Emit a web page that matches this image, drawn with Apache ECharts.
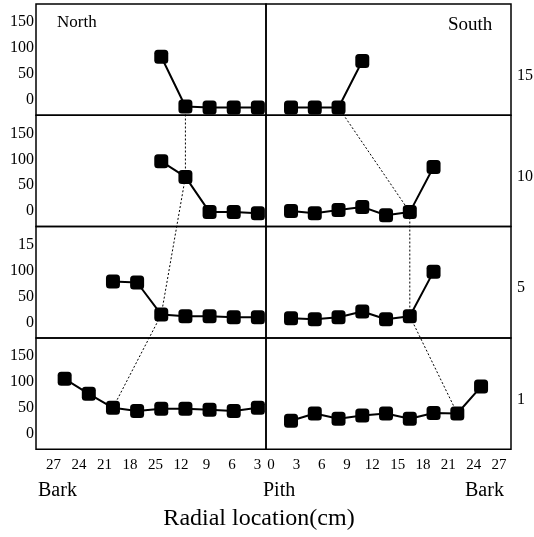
<!DOCTYPE html>
<html>
<head>
<meta charset="utf-8">
<script src="https://cdn.jsdelivr.net/npm/echarts@6/dist/echarts.min.js"></script>
<style>
  html, body { margin: 0; padding: 0; background: #fff; }
  #chart { width: 534px; height: 537px; }
</style>
</head>
<body>
<div id="chart"></div>
<script>
// rows, top to bottom
const rowNames = ['15', '10', '5', '1'];

// north side (distance from pith, cm) and values
const northDist15 = [15, 12, 9, 6, 3];
const north15 = [83, -13, -15, -15, -15];
const northDist10 = [15, 12, 9, 6, 3];
const north10 = [96, 66, -2, -2, -4];
const northDist5 = [21, 18, 15, 12, 9, 6, 3];
const north5 = [79, 77, 15, 12, 12, 10, 10];
const northDist1 = [27, 24, 21, 18, 15, 12, 9, 6, 3];
const north1 = [106, 77, 50, 44, 48, 48, 46, 44, 50];

// south side
const southDist15 = [3, 6, 9, 12];
const south15 = [-15, -15, -15, 75];
const southDist10 = [3, 6, 9, 12, 15, 18, 21];
const south10 = [0, -4, 2, 8, -8, -2, 85];
const southDist5 = [3, 6, 9, 12, 15, 18, 21];
const south5 = [8, 6, 10, 21, 6, 12, 98];
const southDist1 = [3, 6, 9, 12, 15, 18, 21, 24, 27];
const south1 = [25, 39, 29, 35, 39, 29, 40, 39, 91];

// dotted links: the marker picked in each row
const northLink = [12, 12, 15, 21];
const southLink = [9, 18, 18, 24];

// tick labels
const northTickValues = [27, 24, 21, 18, 15, 12, 9, 6, 3];
const northTickLabels = ['27', '24', '21', '18', '25', '12', '9', '6', '3'];
const southTickValues = [0, 3, 6, 9, 12, 15, 18, 21, 24, 27];
const southTickLabels = ['0', '3', '6', '9', '12', '15', '18', '21', '24', '27'];
const yTickValues = [0, 50, 100, 150];
const yTickLabels = [
  ['0', '50', '100', '150'],
  ['0', '50', '100', '150'],
  ['0', '50', '100', '15'],
  ['0', '50', '100', '150']
];

const northRows = [[northDist15, north15], [northDist10, north10], [northDist5, north5], [northDist1, north1]];
const southRows = [[southDist15, south15], [southDist10, south10], [southDist5, south5], [southDist1, south1]];

const font = 'Liberation Serif';
const rowTop = 4;
const rowH = 111.3;
const leftX = 36;
const midX = 266;
const rightX = 511;

const grids = [];
const xAxes = [];
const yAxes = [];
const series = [];

rowNames.forEach((name, i) => {
  const top = rowTop + i * rowH;
  grids.push({ left: leftX, top: top, width: midX - leftX, height: rowH, show: true, borderColor: '#000', borderWidth: 1.5 });
  grids.push({ left: midX, top: top, width: rightX - midX, height: rowH, show: true, borderColor: '#000', borderWidth: 1.5 });

  xAxes.push({ gridIndex: 2 * i, type: 'value', show: false, position: 'top', inverse: true, min: 1.99, max: 30.56 });
  xAxes.push({ gridIndex: 2 * i + 1, type: 'value', show: false, position: 'top', min: -0.16, max: 30.78 });

  yAxes.push({
    gridIndex: 2 * i, type: 'value', min: -30, max: 185,
    axisLine: { show: false }, axisTick: { show: false }, splitLine: { show: false },
    axisLabel: {
      customValues: yTickValues,
      formatter: v => yTickLabels[i][yTickValues.indexOf(v)],
      margin: 2, fontSize: 16, fontFamily: font, color: '#000'
    }
  });
  yAxes.push({ gridIndex: 2 * i + 1, type: 'value', show: false, min: -30, max: 185 });

  const lineSeries = (xi, rows) => ({
    type: 'line',
    xAxisIndex: xi,
    yAxisIndex: xi,
    data: rows[i][0].map((d, k) => [d, rows[i][1][k]]),
    symbol: 'roundRect',
    symbolSize: 14,
    lineStyle: { color: '#000', width: 2 },
    itemStyle: { color: '#000' },
    clip: false,
    z: 3
  });
  series.push(lineSeries(2 * i, northRows));
  series.push(lineSeries(2 * i + 1, southRows));
});

// bottom tick label axes
xAxes.push({
  gridIndex: 6, type: 'value', position: 'bottom', inverse: true, min: 2.0, max: 29.06,
  axisLine: { show: false }, axisTick: { show: false }, splitLine: { show: false },
  axisLabel: {
    customValues: northTickValues,
    formatter: v => northTickLabels[northTickValues.indexOf(v)],
    margin: 8, fontSize: 15, fontFamily: font, color: '#000'
  }
});
xAxes.push({
  gridIndex: 7, type: 'value', position: 'bottom', min: -0.6, max: 28.42,
  axisLine: { show: false }, axisTick: { show: false }, splitLine: { show: false },
  axisLabel: {
    customValues: southTickValues,
    formatter: v => southTickLabels[southTickValues.indexOf(v)],
    margin: 8, fontSize: 15, fontFamily: font, color: '#000'
  }
});

const txt = (text, left, top, size, align) => ({
  text: text, left: left, top: top, padding: 0, textAlign: align || 'left',
  textStyle: { fontFamily: font, fontSize: size, fontWeight: 'normal', color: '#000' }
});

const rowLabelTops = [68, 169, 280, 392];
const titles = [
  txt('North', 57, 14, 17),
  txt('South', 448, 16, 19),
  txt('Bark', 38, 481, 20),
  txt('Pith', 263, 481, 20),
  txt('Bark', 465, 481, 20),
  txt('Radial location(cm)', 259, 507, 24, 'center')
];
rowNames.forEach((name, i) => titles.push(txt(name, 517, rowLabelTops[i], 16)));

const chart = echarts.init(document.getElementById('chart'));
chart.setOption({
  animation: false,
  backgroundColor: '#fff',
  title: titles,
  grid: grids,
  xAxis: xAxes,
  yAxis: yAxes,
  series: series
});

// dotted lines joining markers across rows
function linkPoints(rows, link, offset) {
  return link.map((d, i) => {
    const k = rows[i][0].indexOf(d);
    return chart.convertToPixel({ seriesIndex: 2 * i + offset }, [d, rows[i][1][k]]);
  });
}
const dotted = pts => ({
  type: 'polyline',
  shape: { points: pts },
  style: { stroke: '#000', lineWidth: 1, lineDash: [2, 2], fill: null },
  z: 1
});
chart.setOption({
  graphic: [dotted(linkPoints(northRows, northLink, 0)), dotted(linkPoints(southRows, southLink, 1))]
});
</script>
</body>
</html>
